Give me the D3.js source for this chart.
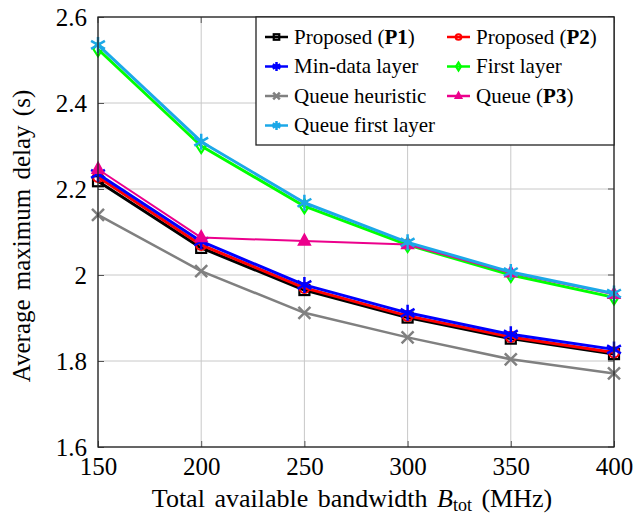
<!DOCTYPE html>
<html>
<head>
<meta charset="utf-8">
<script src="https://cdn.jsdelivr.net/npm/d3@7"></script>
<style>
body { margin: 0; background: #fff; }
</style>
</head>
<body>
<svg width="636" height="516"></svg>
<script>
var bandwidth = [150, 200, 250, 300, 350, 400];
var proposedP1 = [2.218, 2.063, 1.965, 1.901, 1.852, 1.816];
var proposedP2 = [2.228, 2.070, 1.970, 1.905, 1.856, 1.820];
var minDataLayer = [2.235, 2.078, 1.977, 1.912, 1.862, 1.827];
var firstLayer = [2.525, 2.300, 2.160, 2.070, 2.000, 1.948];
var queueHeuristic = [2.140, 2.009, 1.912, 1.855, 1.804, 1.771];
var queueP3 = [2.246, 2.087, 2.079, 2.071, 2.005, 1.955];
var queueFirstLayer = [2.535, 2.310, 2.168, 2.076, 2.007, 1.957];
var xTicks = [150, 200, 250, 300, 350, 400];
var yTicks = [1.6, 1.8, 2, 2.2, 2.4, 2.6];

var series = [
    {name: ["Proposed (", "P1", ")"], values: proposedP1, color: "#000000", mark: "square", width: 3},
    {name: ["Proposed (", "P2", ")"], values: proposedP2, color: "#ff0000", mark: "circle", width: 3},
    {name: ["Min-data layer"], values: minDataLayer, color: "#0000ff", mark: "asterisk", width: 3},
    {name: ["First layer"], values: firstLayer, color: "#00ff00", mark: "diamond", width: 3},
    {name: ["Queue heuristic"], values: queueHeuristic, color: "#808080", mark: "x", width: 2.5},
    {name: ["Queue (", "P3", ")"], values: queueP3, color: "#ec008c", mark: "triangle", width: 2},
    {name: ["Queue first layer"], values: queueFirstLayer, color: "#1ca8e8", mark: "asterisk", width: 3}
];

var FONT = "Liberation Serif";
var svg = d3.select("svg");
var plotL = 98, plotR = 614, plotT = 17, plotB = 447;

var x = d3.scaleLinear().domain([150, 400]).range([plotL, plotR]);
var y = d3.scaleLinear().domain([1.6, 2.6]).range([plotB, plotT]);

// grid
var grid = svg.append("g");
grid.selectAll(".gx").data(xTicks).enter().append("line")
    .attr("x1", d => x(d)).attr("x2", d => x(d))
    .attr("y1", plotT).attr("y2", plotB)
    .attr("stroke", "#c8c8c8").attr("stroke-width", 1);
grid.selectAll(".gy").data(yTicks).enter().append("line")
    .attr("x1", plotL).attr("x2", plotR)
    .attr("y1", d => y(d)).attr("y2", d => y(d))
    .attr("stroke", "#c8c8c8").attr("stroke-width", 1);

// axes (ticks pointing inward)
var xAxis = d3.axisBottom(x).tickValues(xTicks).tickSize(-6).tickPadding(10).tickFormat(d3.format("d"));
var yAxis = d3.axisLeft(y).tickValues(yTicks).tickSize(-6).tickPadding(11).tickFormat(d => String(d));
var gx = svg.append("g").attr("transform", "translate(0," + plotB + ")").call(xAxis);
var gy = svg.append("g").attr("transform", "translate(" + plotL + ",0)").call(yAxis);
[gx, gy].forEach(function(g) {
    g.attr("font-family", FONT).attr("font-size", 25);
    g.select(".domain").remove();
    g.selectAll(".tick line").attr("stroke", "#555");
    g.selectAll(".tick text").attr("fill", "#000");
});
gy.selectAll(".tick text").attr("dy", "0.35em");

svg.append("g").selectAll(".tt").data(xTicks).enter().append("line")
    .attr("x1", d => x(d)).attr("x2", d => x(d))
    .attr("y1", plotT).attr("y2", plotT + 6).attr("stroke", "#555");
svg.append("g").selectAll(".tr").data(yTicks).enter().append("line")
    .attr("x1", plotR - 6).attr("x2", plotR)
    .attr("y1", d => y(d)).attr("y2", d => y(d)).attr("stroke", "#555");

// markers
function drawMark(g, kind, cx, cy, color, s) {
    s = s || 1;
    if (kind === "square") {
        g.append("rect").attr("x", cx - 5 * s).attr("y", cy - 5 * s)
            .attr("width", 10 * s).attr("height", 10 * s)
            .attr("fill", "none").attr("stroke", color).attr("stroke-width", 2.2);
    } else if (kind === "circle") {
        g.append("circle").attr("cx", cx).attr("cy", cy).attr("r", 5 * s)
            .attr("fill", "none").attr("stroke", color).attr("stroke-width", 2.2);
    } else if (kind === "diamond") {
        g.append("path").attr("d", "M" + cx + "," + (cy - 7 * s) + "L" + (cx + 4.5 * s) + "," + cy +
            "L" + cx + "," + (cy + 7 * s) + "L" + (cx - 4.5 * s) + "," + cy + "Z")
            .attr("fill", "none").attr("stroke", color).attr("stroke-width", 2.2);
    } else if (kind === "triangle") {
        g.append("path").attr("d", "M" + cx + "," + (cy - 7 * s) + "L" + (cx + 6 * s) + "," + (cy + 4 * s) +
            "L" + (cx - 6 * s) + "," + (cy + 4 * s) + "Z")
            .attr("fill", color).attr("stroke", color).attr("stroke-width", 1.5);
    } else if (kind === "x") {
        var r = 6 * s;
        g.append("path").attr("d", "M" + (cx - r) + "," + (cy - r) + "L" + (cx + r) + "," + (cy + r) +
            "M" + (cx - r) + "," + (cy + r) + "L" + (cx + r) + "," + (cy - r))
            .attr("stroke", color).attr("stroke-width", 2.5);
    } else if (kind === "asterisk") {
        var d = "", rr = 8 * s;
        for (var k = 0; k < 3; k++) {
            var a = Math.PI / 2 + k * Math.PI / 3;
            d += "M" + (cx + rr * Math.cos(a)) + "," + (cy - rr * Math.sin(a)) +
                 "L" + (cx - rr * Math.cos(a)) + "," + (cy + rr * Math.sin(a));
        }
        g.append("path").attr("d", d).attr("stroke", color).attr("stroke-width", 2.5);
    }
}

var line = d3.line().x(d => x(d[0])).y(d => y(d[1]));
var plot = svg.append("g");
series.forEach(function(s) {
    var pts = bandwidth.map((b, i) => [b, s.values[i]]);
    var g = plot.append("g");
    g.append("path").datum(pts).attr("d", line)
        .attr("fill", "none").attr("stroke", s.color).attr("stroke-width", s.width)
        .attr("stroke-linejoin", "round");
    pts.forEach(p => drawMark(g, s.mark, x(p[0]), y(p[1]), s.color));
});

// frame
svg.append("rect").attr("x", plotL).attr("y", plotT).attr("width", plotR - plotL).attr("height", plotB - plotT)
    .attr("fill", "none").attr("stroke", "#222").attr("stroke-width", 1.3);

// legend
var lg = svg.append("g");
lg.append("rect").attr("x", 256).attr("y", plotT).attr("width", plotR - 256).attr("height", 128)
    .attr("fill", "#fff").attr("stroke", "#222").attr("stroke-width", 1.3);
series.forEach(function(s, i) {
    var col = i % 2, row = Math.floor(i / 2);
    var lx = col === 0 ? 265 : 447, ly = 37 + row * 29.5;
    lg.append("line").attr("x1", lx).attr("x2", lx + 23).attr("y1", ly).attr("y2", ly)
        .attr("stroke", s.color).attr("stroke-width", 2.5);
    drawMark(lg, s.mark, lx + 11.5, ly, s.color, 0.55);
    var t = lg.append("text").attr("x", lx + 29).attr("y", ly).attr("dy", "0.33em")
        .attr("font-family", FONT).attr("font-size", 21);
    s.name.forEach(function(part, j) {
        t.append("tspan").text(part).attr("font-weight", j === 1 ? "bold" : "normal");
    });
});

// axis titles
var xt = svg.append("text").attr("x", 352).attr("y", 507)
    .attr("text-anchor", "middle").attr("font-family", FONT).attr("font-size", 26)
    .attr("word-spacing", 3);
xt.append("tspan").text("Total available bandwidth ");
xt.append("tspan").text("B").attr("font-style", "italic");
xt.append("tspan").text("tot").attr("font-size", 18).attr("dy", 4);
xt.append("tspan").text(" (MHz)").attr("dy", -4);

svg.append("text").attr("transform", "translate(30,236) rotate(-90)")
    .attr("text-anchor", "middle").attr("font-family", FONT).attr("font-size", 25)
    .attr("word-spacing", 3)
    .text("Average maximum delay (s)");
</script>
</body>
</html>
